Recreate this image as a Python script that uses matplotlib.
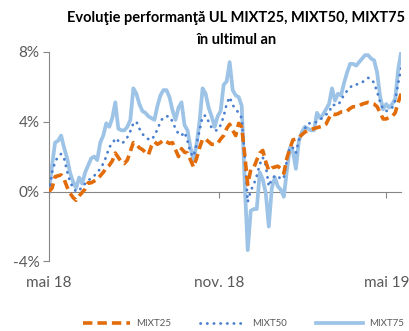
import numpy as np
import pandas as pd
import matplotlib
matplotlib.use("Agg")
import matplotlib.pyplot as plt
import matplotlib.dates as mdates
from matplotlib.ticker import FuncFormatter

# Date grid (May 2018 - mid May 2019)
dates = pd.date_range("2018-05-01", "2019-05-17", periods=118)

# Performance in %
mixt25 = [0.0, 0.2, 0.85, 0.9, 0.95, 0.7, 0.25, -0.1, -0.35, -0.5,
          -0.25, -0.05, 0.15, 0.5, 0.5, 0.6, 0.7, 0.9, 1.1, 1.35,
          1.5, 1.75, 2.2, 1.95, 1.7, 1.6, 1.8, 2.3, 2.8, 2.7,
          2.5, 2.4, 2.25, 2.1, 2.6, 2.85, 2.7, 2.8, 2.95, 2.85,
          2.75, 2.8, 2.4, 2.0, 2.45, 2.25, 2.2, 1.8, 1.4, 1.9,
          2.5, 3.0, 3.0, 2.85, 2.7, 2.7, 2.75, 3.0, 3.2, 3.6,
          3.85, 3.5, 3.2, 3.9, 3.7, 2.1, 0.4, 1.25, 1.35, 1.8,
          2.2, 2.35, 1.7, 1.2, 1.35, 1.4, 1.45, 1.3, 1.05, 1.9,
          2.45, 2.95, 3.0, 3.1, 3.25, 3.4, 3.5, 3.55, 3.6, 3.65,
          3.7, 3.75, 3.85, 4.2, 4.45, 4.4, 4.45, 4.55, 4.55, 4.6,
          4.75, 4.85, 4.85, 4.9, 5.0, 5.05, 5.1, 5.05, 5.0, 4.85,
          4.5, 4.15, 4.15, 4.25, 4.3, 4.5, 5.1, 5.6]

mixt50 = [0.0, 1.1, 1.7, 2.0, 2.15, 1.9, 1.15, 0.55, 0.2, 0.0,
          0.05, 0.3, 0.45, 0.65, 0.75, 0.9, 1.1, 1.3, 1.6, 2.0,
          2.55, 2.7, 3.05, 2.9, 2.75, 2.85, 3.1, 3.45, 3.9, 4.0,
          3.6, 3.3, 3.1, 3.0, 2.95, 3.2, 3.55, 4.0, 4.25, 4.3,
          4.3, 4.0, 3.6, 3.3, 3.2, 3.4, 2.9, 2.2, 2.0, 2.7,
          3.5, 4.3, 4.35, 4.0, 3.65, 3.5, 3.5, 3.8, 4.3, 5.0,
          5.4, 4.95, 4.7, 4.5, 4.2, 2.0, -0.6, 0.05, 0.4, 0.9,
          1.55, 1.95, 1.5, 0.3, 0.7, 0.9, 0.9, 0.7, 0.8, 1.8,
          2.55, 2.5, 2.2, 2.95, 3.2, 3.6, 3.9, 3.9, 3.9, 4.0,
          4.1, 4.25, 4.4, 4.5, 4.95, 4.95, 4.95, 5.2, 5.55, 5.75,
          5.95, 6.1, 6.1, 6.2, 6.25, 6.35, 6.5, 6.45, 6.2, 5.7,
          5.1, 4.7, 4.6, 4.7, 4.8, 5.2, 6.2, 7.05]

mixt75 = [0.0, 1.5, 2.8, 2.9, 3.2, 2.5, 1.9, 1.05, 0.55, 0.2,
          0.8, 0.45, 1.1, 1.5, 1.9, 2.0, 1.8, 2.8, 3.2, 3.9,
          3.7, 4.2, 5.1, 3.6, 3.5, 3.5, 3.7, 4.1, 5.9, 5.6,
          5.0, 4.6, 4.5, 4.3, 4.2, 4.1, 4.9, 5.5, 5.8, 5.8,
          5.4, 4.65, 4.1, 4.8, 5.1, 3.8, 3.5, 2.5, 1.8, 2.7,
          4.0, 5.9, 5.6, 4.8, 4.3, 3.7, 4.3, 4.6, 6.1, 6.3,
          7.4, 5.8, 5.5, 5.4, 4.9, 0.5, -3.35, -1.1, -1.0, -1.0,
          1.1, 0.7, -0.1, -2.0, 0.2, 0.8, 0.3, 0.1, -0.3, 1.2,
          2.5, 2.3, 1.3, 2.9, 3.4, 3.7, 3.6, 3.5, 3.5, 4.5,
          4.2, 4.4, 4.7, 5.0, 5.9, 5.2, 5.6, 5.5, 6.2, 6.8,
          7.3, 7.3, 7.2, 7.4, 7.6, 7.8, 7.8, 7.6, 7.5, 6.8,
          5.4, 4.7, 5.0, 4.8, 5.0, 5.3, 7.0, 8.0]

tick_dates = pd.to_datetime(["2018-05-01", "2018-11-01", "2019-05-01"])
tick_labels = ["mai 18", "nov. 18", "mai 19"]

plt.rcParams["font.family"] = ["Lato", "DejaVu Sans"]
grey = "#595959"

fig = plt.figure(figsize=(4.09, 3.31), dpi=100)
ax = fig.add_axes([0.12, 0.21, 0.861, 0.634])

ax.plot(dates, mixt75, color="#9DC3E6", lw=2.7, solid_joinstyle="round",
        label="MIXT75", zorder=2)
ax.plot(dates, mixt50, color="#4A7FD0", lw=2.0, linestyle=(0, (0.1, 2.3)),
        dash_capstyle="round", label="MIXT50", zorder=3)
ax.plot(dates, mixt25, color="#E36C0A", lw=2.6, linestyle=(0, (2.6, 1.4)),
        label="MIXT25", zorder=4)

ax.set_xlim(dates[0], dates[-1])
ax.set_ylim(-4, 8)
ax.set_yticks([-4, 0, 4, 8])
ax.yaxis.set_major_formatter(FuncFormatter(lambda v, p: f"{v:.0f}%"))

ax.set_xticks(tick_dates)
ax.set_xticklabels(tick_labels)

for s in ["top", "right"]:
    ax.spines[s].set_visible(False)
ax.spines["bottom"].set_position(("data", 0))
ax.spines["bottom"].set_color("#868686")
ax.spines["left"].set_color("#868686")
ax.spines["bottom"].set_zorder(1)

ax.tick_params(axis="y", length=4, color="#868686", labelsize=11,
               labelcolor=grey, pad=3)
ax.tick_params(axis="x", length=4, color="#868686", labelsize=11,
               labelcolor=grey, pad=57)

fig.text(0.578, 0.945, "Evoluţie performanţă UL MIXT25, MIXT50, MIXT75",
         ha="center", va="center", fontsize=10.5, fontweight="bold")
fig.text(0.578, 0.878, "în ultimul an",
         ha="center", va="center", fontsize=10.5, fontweight="bold")

handles, labels = ax.get_legend_handles_labels()
order = [2, 1, 0]
fig.legend([handles[i] for i in order], [labels[i] for i in order],
           loc="center", bbox_to_anchor=(0.595, 0.022), ncol=3,
           frameon=False, fontsize=7, labelcolor=grey, handlelength=4.8,
           columnspacing=3.0, handletextpad=0.6)

fig.savefig("out.png", dpi=100)
